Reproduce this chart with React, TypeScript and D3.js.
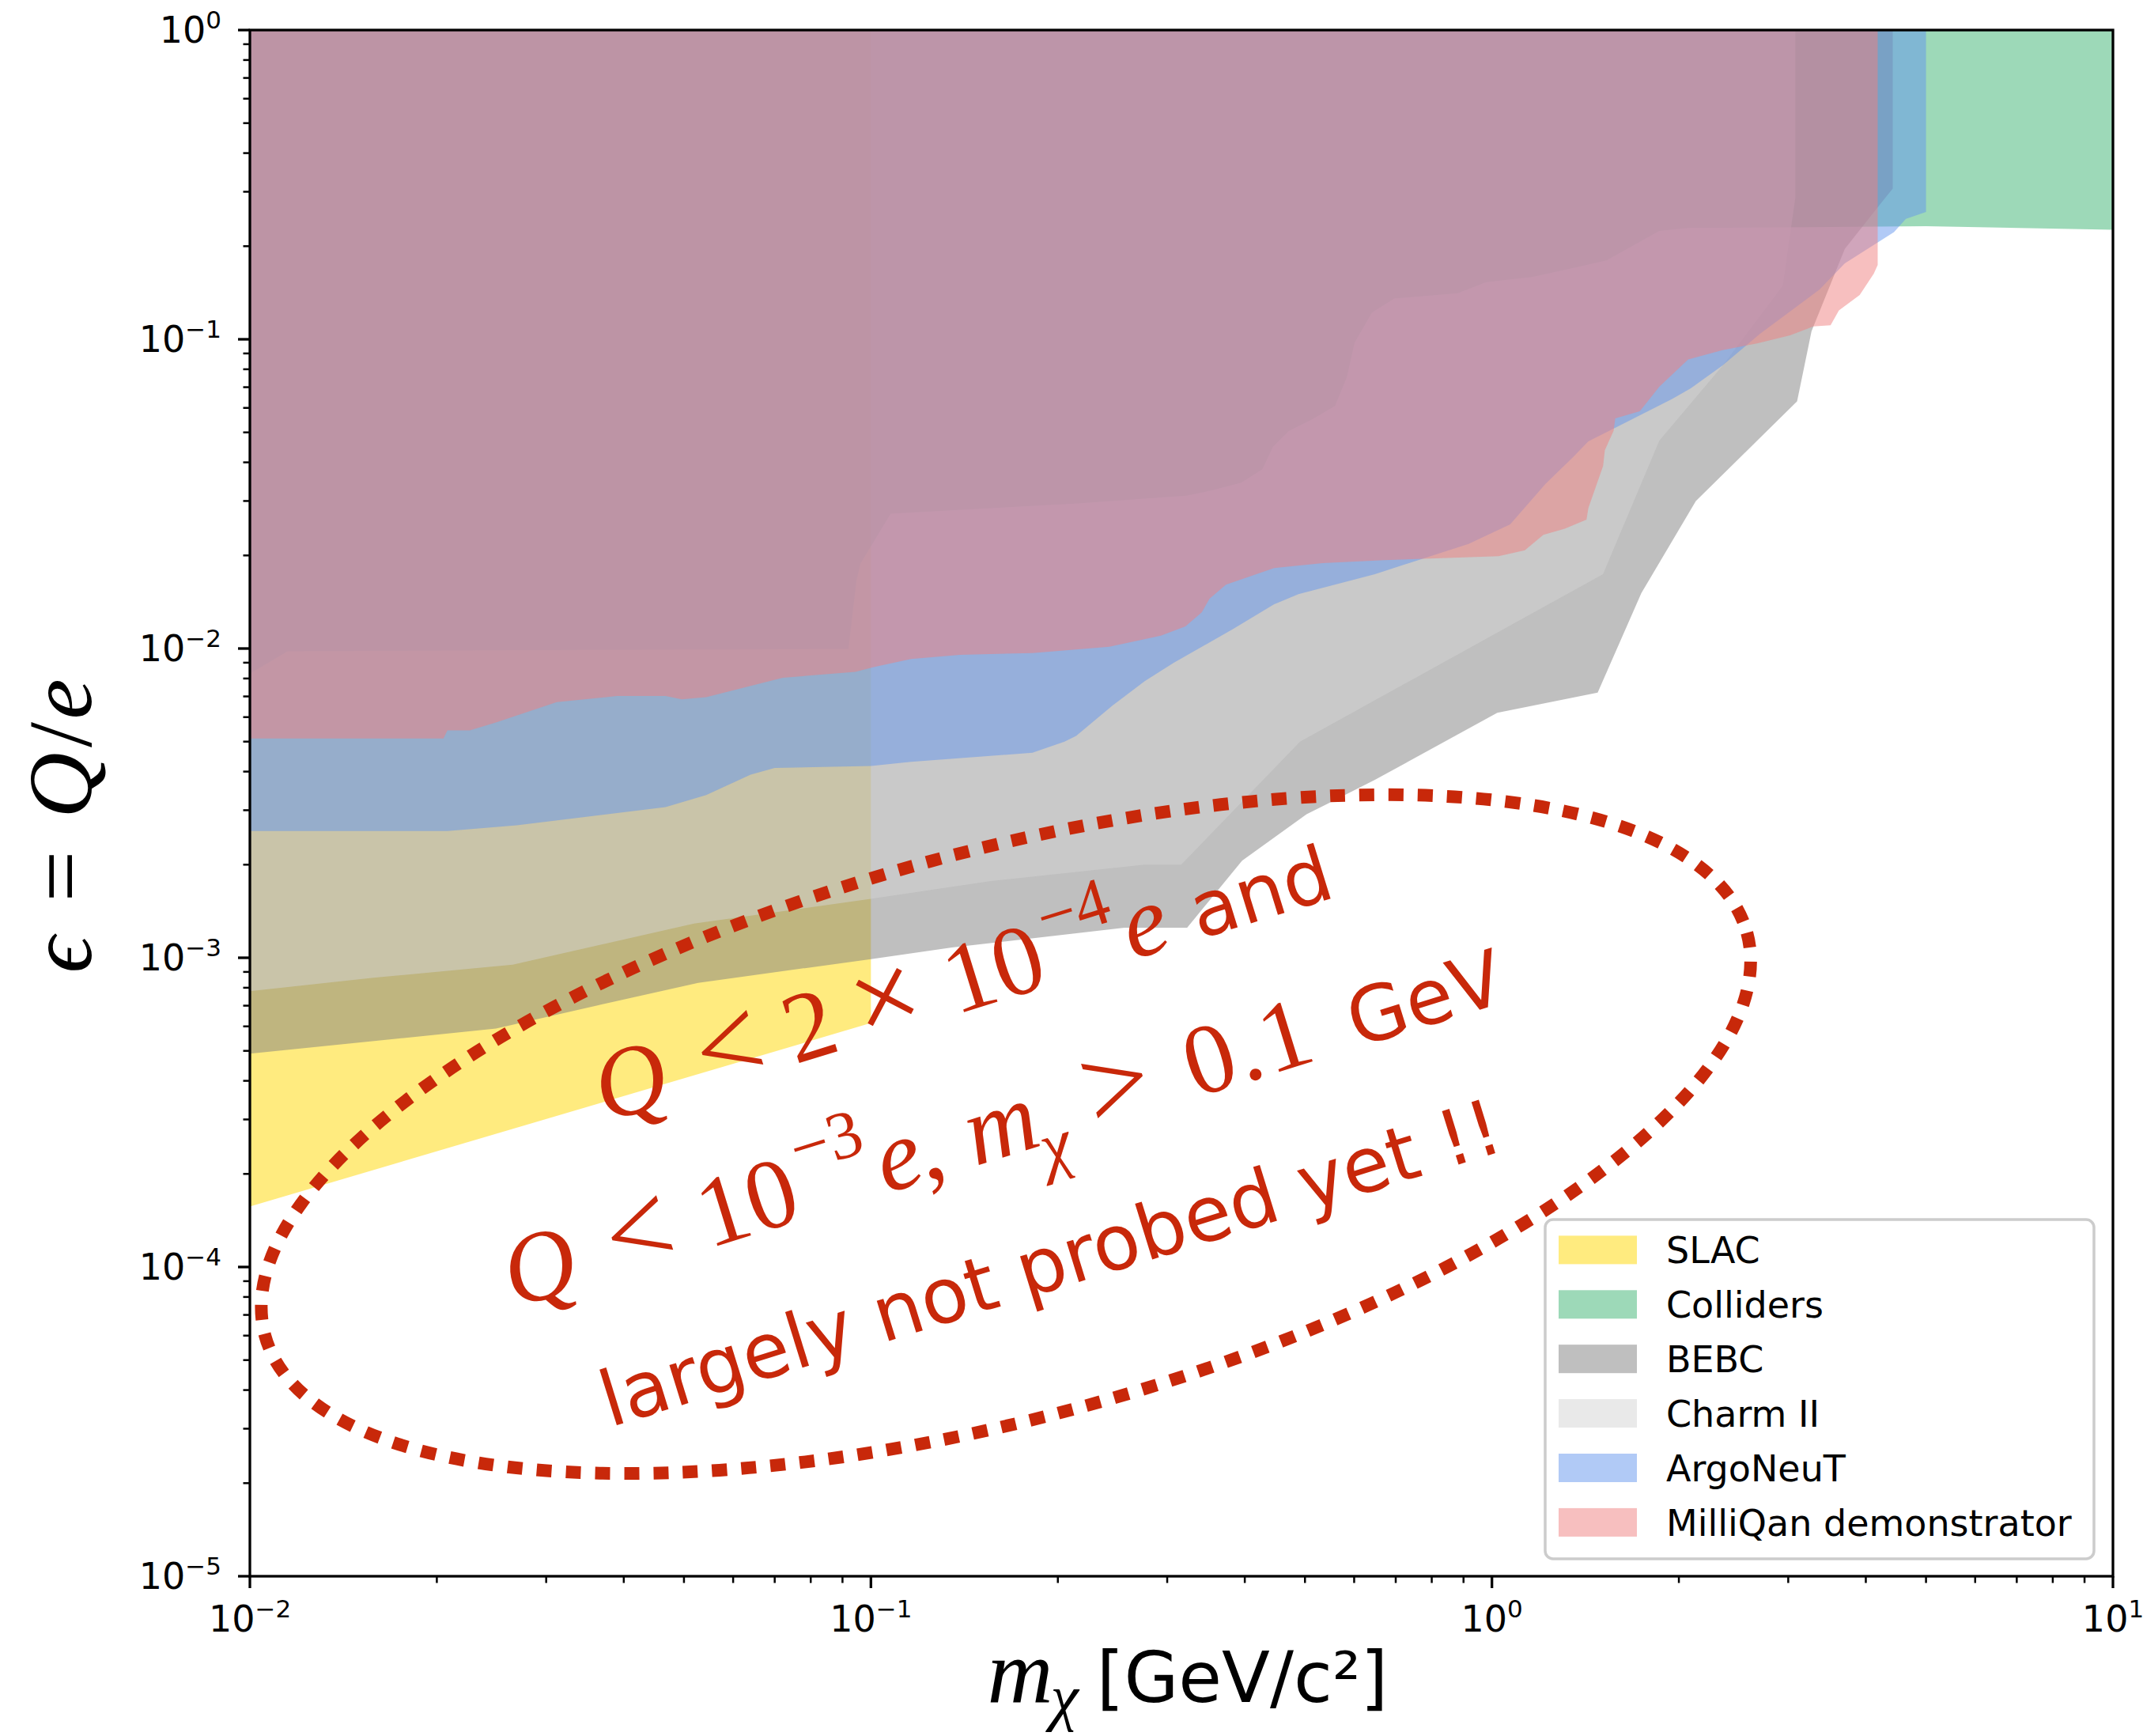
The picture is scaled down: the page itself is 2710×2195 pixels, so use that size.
import React from 'react'
import * as d3 from 'd3'

const W = 2710
const H = 2195
const plot = { left: 316, right: 2672, top: 38, bottom: 1993 }

// legend order = draw order
const experiments = ['SLAC', 'Colliders', 'BEBC', 'Charm II', 'ArgoNeuT', 'MilliQan demonstrator']
const colors = ['#ffd700', '#3cb371', '#808080', '#d3d3d3', '#6495ed', '#f08080']

// lower edge of every excluded region, [m (GeV), eps]; each region is closed up to eps = 1
const slac: [number, number][] = [[0.01, 1.57e-4], [0.1, 6.15e-4]]
const colliders: [number, number][] = [
  [0.01, 8.3e-3], [0.0115, 9.8e-3], [0.092, 9.97e-3], [0.0948, 1.66e-2], [0.0962, 1.88e-2],
  [0.1076, 2.73e-2], [0.211, 2.94e-2], [0.322, 3.12e-2], [0.355, 3.25e-2], [0.395, 3.44e-2],
  [0.427, 3.8e-2], [0.444, 4.49e-2], [0.471, 5.05e-2], [0.514, 5.52e-2], [0.559, 6.09e-2],
  [0.584, 7.55e-2], [0.601, 9.75e-2], [0.641, 0.122], [0.696, 0.1355], [0.881, 0.141],
  [0.979, 0.153], [1.16, 0.159], [1.34, 0.1695], [1.53, 0.18], [1.86, 0.224], [2.07, 0.229],
  [5.0, 0.232], [10, 0.226],
]
const bebc: [number, number][] = [
  [0.01, 4.9e-4], [0.0177, 5.5e-4], [0.0249, 5.9e-4], [0.0408, 7.4e-4], [0.0527, 8.3e-4],
  [0.1, 9.9e-4], [0.135, 1.08e-3], [0.256, 1.25e-3], [0.323, 1.25e-3], [0.396, 2.06e-3],
  [0.503, 2.91e-3], [0.648, 3.76e-3], [1.02, 6.2e-3], [1.48, 7.2e-3], [1.74, 1.51e-2],
  [2.13, 3.0e-2], [3.1, 6.3e-2], [3.27, 0.106], [3.7, 0.196], [4.3, 0.287], [4.42, 0.307],
]
const charm2: [number, number][] = [
  [0.01, 7.8e-4], [0.0157, 8.6e-4], [0.0265, 9.5e-4], [0.0519, 1.29e-3], [0.1, 1.55e-3],
  [0.156, 1.77e-3], [0.276, 2.0e-3], [0.316, 2.0e-3], [0.491, 5.0e-3], [1.51, 1.74e-2],
  [1.86, 4.7e-2], [2.35, 8.2e-2], [2.94, 0.149], [3.08, 0.287],
]
const argoneut: [number, number][] = [
  [0.01, 2.57e-3], [0.0208, 2.57e-3], [0.0269, 2.68e-3], [0.0467, 3.07e-3], [0.0543, 3.36e-3],
  [0.064, 3.91e-3], [0.07, 4.11e-3], [0.1, 4.17e-3], [0.116, 4.3e-3], [0.182, 4.6e-3],
  [0.205, 5.0e-3], [0.214, 5.22e-3], [0.245, 6.54e-3], [0.276, 7.84e-3], [0.307, 8.98e-3],
  [0.384, 1.16e-2], [0.446, 1.39e-2], [0.488, 1.5e-2], [0.648, 1.74e-2], [0.917, 2.18e-2],
  [1.07, 2.52e-2], [1.22, 3.41e-2], [1.35, 4.15e-2], [1.43, 4.68e-2], [1.95, 6.41e-2],
  [2.09, 6.94e-2], [2.35, 8.22e-2], [2.7, 0.104], [3.37, 0.145], [3.7, 0.176], [4.44, 0.222],
  [4.64, 0.245], [5.0, 0.258],
]
const milliqan: [number, number][] = [
  [0.01, 5.12e-3], [0.0205, 5.12e-3], [0.0208, 5.44e-3], [0.0226, 5.44e-3], [0.0249, 5.77e-3],
  [0.0312, 6.71e-3], [0.039, 7.02e-3], [0.0467, 7.02e-3], [0.0496, 6.85e-3], [0.0543, 6.96e-3],
  [0.0721, 8.04e-3], [0.0944, 8.41e-3], [0.101, 8.71e-3], [0.116, 9.25e-3], [0.139, 9.54e-3],
  [0.182, 9.67e-3], [0.242, 1.013e-2], [0.293, 1.1e-2], [0.321, 1.18e-2], [0.341, 1.31e-2],
  [0.351, 1.45e-2], [0.373, 1.61e-2], [0.446, 1.82e-2], [0.534, 1.89e-2], [0.67, 1.93e-2],
  [1.025, 1.99e-2], [1.13, 2.08e-2], [1.21, 2.33e-2], [1.31, 2.44e-2], [1.42, 2.61e-2],
  [1.43, 2.85e-2], [1.51, 3.89e-2], [1.52, 4.38e-2], [1.57, 5.06e-2], [1.58, 5.55e-2],
  [1.73, 5.85e-2], [1.86, 7.02e-2], [2.07, 8.61e-2], [2.35, 9.22e-2], [2.68, 9.71e-2],
  [3.02, 0.103], [3.29, 0.11], [3.51, 0.111], [3.62, 0.124], [3.91, 0.139], [4.12, 0.163],
  [4.18, 0.174],
]
const regions = [slac, colliders, bebc, charm2, argoneut, milliqan]

const xMajor = [1e-2, 1e-1, 1e0, 1e1]
const yMajor = [1e-5, 1e-4, 1e-3, 1e-2, 1e-1, 1e0]

// dotted ellipse round the unprobed corner (centre in data units)
const ellipseCenter: [number, number] = [0.165, 2.69e-4]

const RED = '#c8280a'
const SANS = 'DejaVu Sans, sans-serif'
const SERIF = 'Liberation Serif, DejaVu Serif, serif'
const MATH = 115
const SCRIPT = 80
const NOTE_MATH = 126
const NOTE_SCRIPT = 86
const NOTE_OP = 150
const TEXT = 97

type Piece = { s: string; t: number; d: number; it?: boolean; sans?: boolean; small?: boolean; op?: boolean }

// annotation pieces, laid out along a baseline tilted by 17.2 deg
const note1: Piece[] = [
  { s: 'Q', t: 357, d: 1583, it: true }, { s: '<', t: 489, d: 1585, op: true }, { s: '2', t: 594, d: 1583 },
  { s: '×', t: 696, d: 1585, op: true }, { s: '10', t: 838, d: 1583 }, { s: '−4', t: 956, d: 1528, small: true },
  { s: 'e', t: 1037, d: 1583, it: true }, { s: 'and', t: 1189, d: 1583, sans: true },
]
const note2: Piece[] = [
  { s: 'Q', t: 178, d: 1773, it: true }, { s: '<', t: 311, d: 1775, op: true }, { s: '10', t: 453, d: 1773 },
  { s: '−3', t: 571, d: 1715, small: true }, { s: 'e', t: 652, d: 1773, it: true },
  { s: ',', t: 692, d: 1773 }, { s: 'm', t: 788, d: 1773, it: true },
  { s: 'χ', t: 847, d: 1806, it: true, small: true }, { s: '>', t: 943, d: 1775, op: true },
  { s: '0', t: 1065, d: 1773 }, { s: '.', t: 1115, d: 1773 }, { s: '1', t: 1165, d: 1773 },
  { s: 'GeV', t: 1348, d: 1773, sans: true },
]
const note3 = 'largely not probed yet !!'

const expo = (v: number) => {
  const e = Math.round(Math.log10(v))
  return e < 0 ? '−' + Math.abs(e) : String(e)
}

export default function App() {
  const x = d3.scaleLog().domain([1e-2, 10]).range([plot.left, plot.right])
  const y = d3.scaleLog().domain([1e-5, 1]).range([plot.bottom, plot.top])

  const line = d3.line<[number, number]>().x(d => x(d[0])).y(d => y(d[1]))
  const regionPath = (lower: [number, number][]) => {
    const pts: [number, number][] = [...lower, [lower[lower.length - 1][0], 1], [lower[0][0], 1]]
    return line(pts) + 'Z'
  }

  const isMajor = (v: number) => Math.abs(Math.log10(v) - Math.round(Math.log10(v))) < 1e-9
  const xMinor = x.ticks().filter(v => !isMajor(v))
  const yMinor = y.ticks().filter(v => !isMajor(v))

  const cx = x(ellipseCenter[0])
  const cy = y(ellipseCenter[1])

  const piece = (p: Piece, i: number) => (
    <text key={i} x={p.t} y={p.d} textAnchor="middle"
      fontFamily={p.sans ? SANS : SERIF}
      fontStyle={p.it ? 'italic' : 'normal'}
      fontSize={p.sans ? TEXT : p.small ? NOTE_SCRIPT : p.op ? NOTE_OP : NOTE_MATH}>{p.s}</text>
  )

  return (
    <svg width={W} height={H} viewBox={`0 0 ${W} ${H}`}
      style={{ position: 'absolute', left: 0, top: 0, background: '#fff' }}>
      <defs>
        <clipPath id="plotClip">
          <rect x={plot.left} y={plot.top} width={plot.right - plot.left} height={plot.bottom - plot.top} />
        </clipPath>
      </defs>

      <g clipPath="url(#plotClip)">
        {regions.map((r, i) => (
          <path key={experiments[i]} d={regionPath(r)} fill={colors[i]} fillOpacity={0.5} stroke="none" />
        ))}
      </g>

      {/* dotted ellipse */}
      <ellipse cx={cx} cy={cy} rx={971} ry={358} transform={`rotate(-15.2 ${cx} ${cy})`}
        fill="none" stroke={RED} strokeWidth={16} strokeDasharray="19 18" />

      {/* annotation */}
      <g transform="rotate(-17.2)" fill={RED}>
        {note1.map(piece)}
        {note2.map(piece)}
        <text x={203} y={1952} fontFamily={SANS} fontSize={TEXT}>{note3}</text>
      </g>

      {/* legend */}
      <g>
        <rect x={1954} y={1542} width={694} height={429} rx={10} fill="#fff" fillOpacity={0.8}
          stroke="#cccccc" strokeWidth={3.5} />
        {experiments.map((name, i) => {
          const yc = 1580.4 + i * 68.9
          return (
            <g key={name}>
              <rect x={1971} y={yc - 18} width={99} height={36} fill={colors[i]} fillOpacity={0.5} />
              <text x={2107} y={yc + 17} fontFamily={SANS} fontSize={46} fill="#000">{name}</text>
            </g>
          )
        })}
      </g>

      {/* frame */}
      <rect x={plot.left} y={plot.top} width={plot.right - plot.left} height={plot.bottom - plot.top}
        fill="none" stroke="#000" strokeWidth={3.3} />

      {/* ticks */}
      <g stroke="#000">
        {xMajor.map(v => (
          <line key={'xM' + v} x1={x(v)} x2={x(v)} y1={plot.bottom} y2={plot.bottom + 15} strokeWidth={3.3} />
        ))}
        {xMinor.map(v => (
          <line key={'xm' + v} x1={x(v)} x2={x(v)} y1={plot.bottom} y2={plot.bottom + 8.5} strokeWidth={2.5} />
        ))}
        {yMajor.map(v => (
          <line key={'yM' + v} x1={plot.left - 15} x2={plot.left} y1={y(v)} y2={y(v)} strokeWidth={3.3} />
        ))}
        {yMinor.map(v => (
          <line key={'ym' + v} x1={plot.left - 8.5} x2={plot.left} y1={y(v)} y2={y(v)} strokeWidth={2.5} />
        ))}
      </g>

      <g fontFamily={SANS} fontSize={46} fill="#000">
        {xMajor.map(v => (
          <text key={'xl' + v} x={x(v)} y={2063} textAnchor="middle">
            10<tspan dy={-18} fontSize={31}>{expo(v)}</tspan>
          </text>
        ))}
        {yMajor.map(v => (
          <text key={'yl' + v} x={280} y={y(v) + 16} textAnchor="end">
            10<tspan dy={-18} fontSize={31}>{expo(v)}</tspan>
          </text>
        ))}
      </g>

      {/* x label */}
      <g fill="#000">
        <text x={1290} y={2152} textAnchor="middle" fontFamily={SERIF} fontStyle="italic" fontSize={MATH}>m</text>
        <text x={1346} y={2173} textAnchor="middle" fontFamily={SERIF} fontStyle="italic" fontSize={SCRIPT}>χ</text>
        <text x={1571} y={2152} textAnchor="middle" fontFamily={SANS} fontSize={89}>[GeV/c²]</text>
      </g>

      {/* y label */}
      <g transform="rotate(-90)" fill="#000" fontFamily={SERIF} fontSize={MATH}>
        <text x={-1207} y={115} textAnchor="middle" fontStyle="italic">ϵ</text>
        <text x={-1108} y={115} textAnchor="middle">=</text>
        <text x={-993} y={115} textAnchor="middle" fontStyle="italic">Q</text>
        <text x={-929} y={115} textAnchor="middle">/</text>
        <text x={-884} y={115} textAnchor="middle" fontStyle="italic">e</text>
      </g>
    </svg>
  )
}
